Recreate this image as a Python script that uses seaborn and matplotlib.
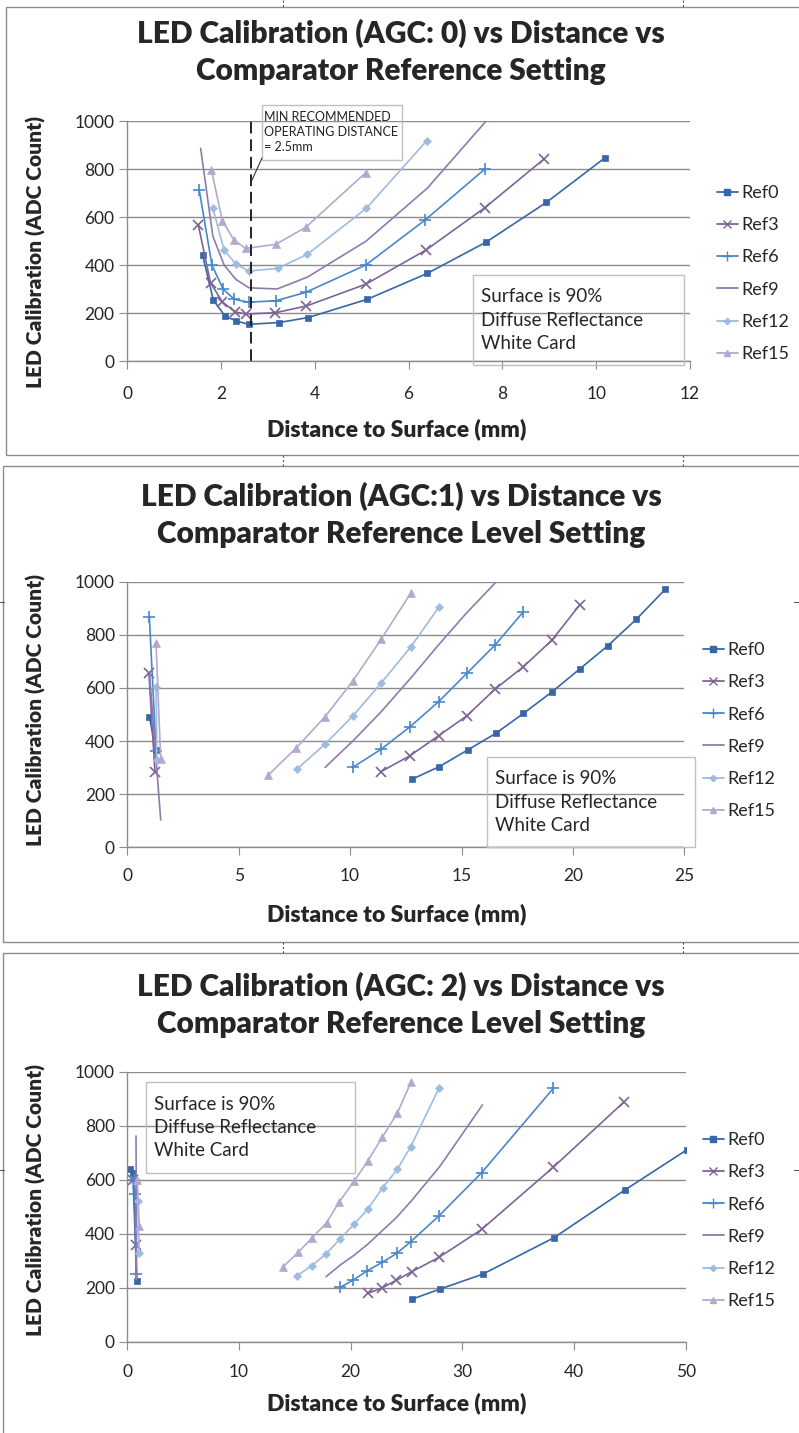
import numpy as np
import pandas as pd
import matplotlib
matplotlib.use("Agg")
import matplotlib.pyplot as plt
import seaborn as sns
from matplotlib.lines import Line2D
from matplotlib.patches import Rectangle

sns.set_style("white")
plt.rcParams['font.family'] = ['Lato', 'DejaVu Sans']

W, H = 799, 1433

# series names and styles
refs = ["Ref0", "Ref3", "Ref6", "Ref9", "Ref12", "Ref15"]
colors = ["#3767a6", "#7d6497", "#4a87c9", "#8f7aaf", "#9ebbe0", "#b5a8cf"]
markers = ["s", "x", "+", None, "D", "^"]
msizes = [5, 7, 9, 0, 4, 6]

# AGC 0 data (distance mm, ADC count)
agc0 = {
    "Ref0": ([1.61, 1.84, 2.09, 2.33, 2.59, 3.23, 3.86, 5.12, 6.40, 7.66, 8.94, 10.19],
             [442, 254, 187, 167, 153, 160, 181, 257, 365, 496, 661, 847]),
    "Ref3": ([1.52, 1.78, 2.03, 2.30, 2.53, 3.16, 3.82, 5.09, 6.37, 7.63, 8.89],
             [567, 326, 247, 205, 196, 201, 229, 320, 462, 639, 842]),
    "Ref6": ([1.54, 1.81, 2.05, 2.29, 2.59, 3.17, 3.81, 5.09, 6.35, 7.63],
             [712, 400, 299, 257, 245, 251, 286, 400, 587, 800]),
    "Ref9": ([1.57, 1.83, 2.07, 2.32, 2.60, 3.20, 3.85, 5.10, 6.40, 7.70],
             [886, 520, 400, 340, 305, 300, 350, 500, 720, 1010]),
    "Ref12": ([1.83, 2.07, 2.32, 2.59, 3.21, 3.84, 5.10, 6.39],
              [636, 462, 404, 375, 386, 444, 636, 918]),
    "Ref15": ([1.80, 2.03, 2.28, 2.53, 3.17, 3.81, 5.09],
              [796, 585, 504, 469, 486, 557, 785]),
}

# AGC 1 data, None splits the near and far groups
agc1 = {
    "Ref0": ([0.99, 1.28, None, 12.77, 14.01, 15.27, 16.54, 17.78, 19.06, 20.33, 21.57, 22.84, 24.14],
             [492, 365, None, 256, 304, 366, 429, 504, 585, 673, 759, 858, 971]),
    "Ref3": ([0.97, 1.24, None, 11.39, 12.69, 13.97, 15.24, 16.51, 17.78, 19.06, 20.30],
             [655, 285, None, 285, 345, 420, 495, 596, 680, 780, 912]),
    "Ref6": ([0.99, 1.29, None, 10.12, 11.39, 12.69, 13.97, 15.24, 16.51, 17.78],
             [868, 363, None, 301, 369, 454, 548, 655, 762, 887]),
    "Ref9": ([1.0, 1.5, None, 8.88, 10.12, 11.39, 12.70, 13.95, 15.20, 16.51],
             [650, 103, None, 301, 400, 510, 635, 760, 880, 995]),
    "Ref12": ([1.29, 1.33, None, 7.61, 8.88, 10.12, 11.38, 12.73, 14.00],
              [605, 330, None, 294, 389, 494, 617, 755, 906]),
    "Ref15": ([1.29, 1.50, None, 6.33, 7.57, 8.88, 10.12, 11.39, 12.74],
              [768, 331, None, 272, 373, 492, 626, 783, 959]),
}

# AGC 2 data
agc2 = {
    "Ref0": ([0.2, 0.5, 0.85, None, 25.46, 28.0, 31.82, 38.2, 44.56, 50.08],
             [640, 625, 226, None, 157, 195, 250, 385, 562, 710]),
    "Ref3": ([0.55, 0.78, None, 21.52, 22.77, 24.1, 25.46, 27.93, 31.73, 38.14, 44.5],
             [600, 358, None, 179, 198, 228, 259, 313, 416, 646, 889]),
    "Ref6": ([0.6, 0.69, 0.78, None, 19.04, 20.23, 21.49, 22.83, 24.12, 25.37, 27.93, 31.73, 38.14],
             [600, 547, 250, None, 201, 228, 263, 294, 327, 370, 467, 626, 938]),
    "Ref9": ([0.78, 0.84, None, 17.8, 19.1, 20.3, 21.5, 22.8, 24.1, 25.4, 28.0, 31.8],
             [762, 230, None, 241, 285, 320, 360, 410, 460, 520, 650, 877]),
    "Ref12": ([0.95, 1.07, None, 15.22, 16.51, 17.79, 19.04, 20.32, 21.52, 22.86, 24.17, 25.37, 27.9],
              [520, 327, None, 245, 281, 325, 380, 436, 490, 570, 638, 722, 938]),
    "Ref15": ([0.9, 1.07, None, 13.91, 15.31, 16.51, 17.85, 19.0, 20.32, 21.52, 22.83, 24.17, 25.4],
              [600, 428, None, 276, 331, 383, 441, 519, 595, 669, 757, 846, 961]),
}

titles = [
    "LED Calibration (AGC: 0) vs Distance vs\nComparator Reference Setting",
    "LED Calibration (AGC:1) vs Distance vs\nComparator Reference Level Setting",
    "LED Calibration (AGC: 2) vs Distance vs\nComparator Reference Level Setting",
]
note = "Surface is 90%\nDiffuse Reflectance\nWhite Card"
min_dist = 2.65

GRID = "#8c8c8c"


def fx(px):
    return px / W


def fy(py):
    return 1 - py / H


def rect(fig, x0, y0, x1, y1, ls="-", lw=1.0, ec=GRID):
    fig.patches.append(Rectangle((fx(x0), fy(y1)), fx(x1) - fx(x0), fy(y0) - fy(y1),
                                 transform=fig.transFigure, fill=False, ec=ec, lw=lw, ls=ls))


def draw_panel(fig, box, data, xmax, xstep, title, title_y, xlabel_y, ylabel_y, note_box,
               leg_xy, xpad):
    l, t, r, b = box
    ax = fig.add_axes([fx(l), fy(b), fx(r) - fx(l), fy(t) - fy(b)])
    for name, c, m, ms in zip(refs, colors, markers, msizes):
        xs, ys = data[name]
        df = pd.DataFrame({"x": xs, "y": ys})
        seg = df["x"].isna().cumsum()
        df = df.assign(seg=seg).dropna()
        for _, part in df.groupby("seg"):
            sns.lineplot(data=part, x="x", y="y", ax=ax, color=c, lw=1.2, sort=False,
                         estimator=None, marker=m if m else None, markersize=ms,
                         markeredgewidth=1.2 if m in ("x", "+") else 0.5,
                         markeredgecolor=c, legend=False)
    ax.set_xlim(0, xmax)
    ax.set_ylim(0, 1000)
    ax.set_xticks(np.arange(0, xmax + 0.01, xstep))
    ax.set_yticks(np.arange(0, 1001, 200))
    ax.yaxis.grid(True, color=GRID, lw=1.0)
    ax.set_axisbelow(True)
    for s in ["top", "right"]:
        ax.spines[s].set_visible(False)
    for s in ["left", "bottom"]:
        ax.spines[s].set_color(GRID)
        ax.spines[s].set_linewidth(1.0)
    ax.tick_params(axis="both", direction="out", length=6, color=GRID, labelsize=12.5,
                   bottom=True, left=True)
    ax.tick_params(axis="x", pad=xpad)
    ax.tick_params(axis="y", pad=3)
    ax.set_xlabel("")
    ax.set_ylabel("")
    # titles and axis labels
    fig.text(fx(401), fy(title_y), title, ha="center", va="center", fontsize=21.5,
             fontweight="heavy", linespacing=1.38)
    fig.text(fx(397), fy(xlabel_y), "Distance to Surface (mm)", ha="center", va="center",
             fontsize=16.5, fontweight="heavy")
    fig.text(fx(36), fy(ylabel_y), "LED Calibration (ADC Count)", ha="center",
             va="center", rotation=90, fontsize=15, fontweight="heavy")
    # note box
    nx0, ny0, nx1, ny1 = note_box
    rect(fig, nx0, ny0, nx1, ny1, ec="#bfbfbf")
    fig.text(fx(nx0 + 8), fy((ny0 + ny1) / 2), note, ha="left", va="center", fontsize=13.5,
             linespacing=1.45)
    # legend
    handles = [Line2D([0], [0], color=c, lw=1.3, marker=m if m else None,
                      markersize=ms * 0.8, markeredgecolor=c, markeredgewidth=1.0)
               for c, m, ms in zip(colors, markers, msizes)]
    fig.legend(handles, refs, loc="upper left", bbox_to_anchor=(fx(leg_xy[0]), fy(leg_xy[1])),
               frameon=False, fontsize=13, handlelength=1.15, handletextpad=0.2,
               labelspacing=0.9, borderpad=0, borderaxespad=0)
    return ax


fig = plt.figure(figsize=(W / 100, H / 100), dpi=100)

# outer panel frames
rect(fig, 6, 7, 820, 455)
rect(fig, 3, 466, 820, 942)
rect(fig, 3, 953, 820, 1450)
for xx in [283, 683]:
    for y0, y1 in [(0, 7), (455, 466), (942, 953)]:
        fig.add_artist(Line2D([fx(xx), fx(xx)], [fy(y0), fy(y1)], color="#555555", lw=0.8,
                              ls=(0, (2, 2)), transform=fig.transFigure))
for yy in [602, 1170]:
    for x0, x1 in [(0, 4), (794, 799)]:
        fig.add_artist(Line2D([fx(x0), fx(x1)], [fy(yy), fy(yy)], color="#555555", lw=0.8,
                              transform=fig.transFigure))

ax0 = draw_panel(fig, (127, 121, 690, 361), agc0, 12, 2, titles[0], 52, 429, 252,
                 (473, 275, 684, 365), (717, 185), 12)
ax1 = draw_panel(fig, (127.3, 581.7, 684.3, 847.3), agc1, 25, 5, titles[1], 515, 914, 710,
                 (487, 757, 695, 847), (703, 642), 9)
ax2 = draw_panel(fig, (127.3, 1071.7, 685.7, 1341.7), agc2, 50, 10, titles[2], 1005, 1403,
                 1200, (146, 1082, 355, 1173), (703, 1132), 10)

# minimum operating distance marker on the first chart
ax0.axvline(min_dist, color="#222222", lw=1.4, ls=(0, (6, 3)))
rect(fig, 262, 105, 402, 160, ec="#bfbfbf")
fig.text(fx(264), fy(132), "MIN RECOMMENDED\nOPERATING DISTANCE\n= 2.5mm", ha="left",
         va="center", fontsize=9, linespacing=1.3, color="#222222")
fig.add_artist(Line2D([fx(262), fx(252)], [fy(158), fy(180)], color="#333333", lw=0.8,
                      transform=fig.transFigure))

fig.savefig("out.png", dpi=100, facecolor="white")
